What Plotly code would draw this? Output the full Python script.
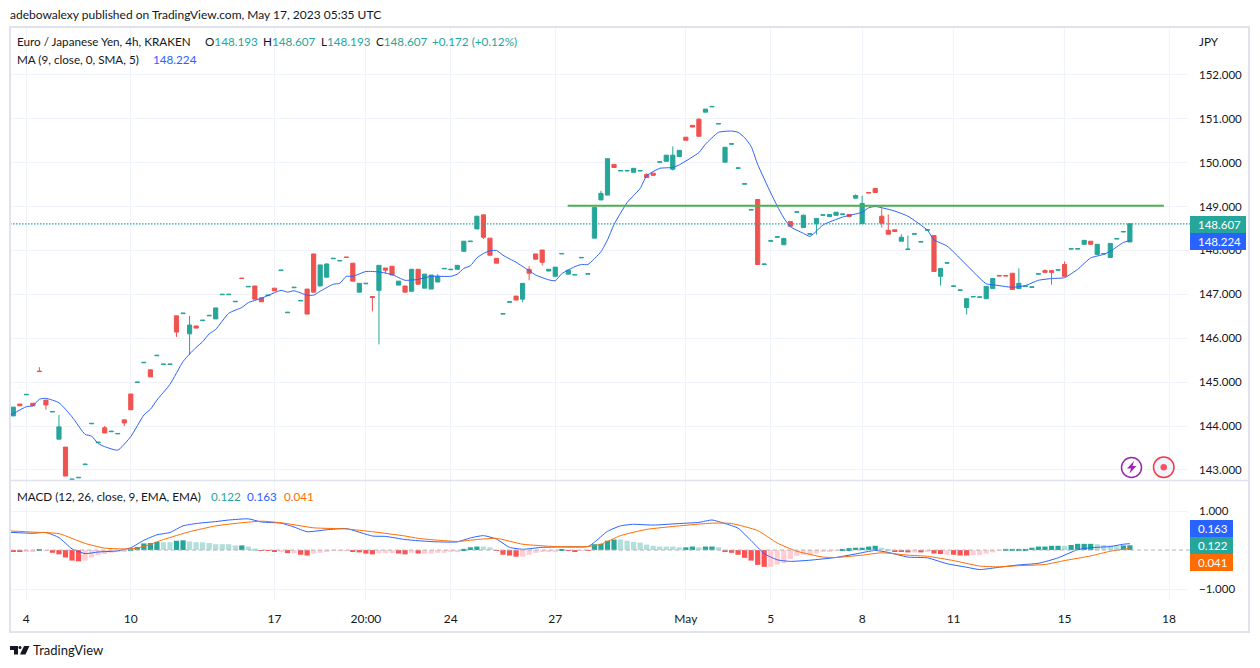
import pandas as pd
import plotly.graph_objects as go

# EUR/JPY 4h candles, one row per bar
opens = [144.23, 144.50, 144.71, 144.52, 145.25, 144.59, 144.32, 143.70, 143.52, 142.78,
         142.82, 143.12, 144.05, 143.62, 143.96, 143.87, 143.82, 144.14, 144.73, 144.99,
         145.44, 145.28, 145.60, 145.40, 145.40, 146.51, 146.56, 146.10, 146.28, 146.40,
         146.51, 146.44, 146.99, 146.99, 146.83, 147.37, 147.17, 147.19, 146.92, 146.97,
         147.14, 147.54, 146.58, 147.15, 146.85, 147.12, 147.92, 147.19, 147.39, 147.81,
         147.76, 147.85, 147.71, 147.05, 147.24, 146.95, 147.09, 147.60, 147.64, 147.21,
         147.19, 147.07, 147.57, 147.14, 147.12, 147.28, 147.58, 147.56, 147.57, 147.98,
         148.20, 148.49, 148.81, 148.28, 147.82, 146.55, 146.82, 146.96, 146.89, 147.57,
         147.92, 148.01, 147.53, 147.41, 147.92, 147.46, 147.44, 147.83, 147.46, 148.28,
         149.15, 149.26, 149.96, 149.81, 149.81, 149.78, 149.81, 149.73, 149.76, 150.01,
         150.03, 149.85, 150.14, 150.58, 150.85, 150.99, 151.15, 151.27, 150.88, 150.01,
         150.42, 149.87, 149.51, 148.92, 149.16, 147.68, 148.21, 148.30, 148.13, 148.66,
         148.87, 148.52, 148.37, 148.61, 148.80, 148.77, 148.80, 148.82, 148.82, 149.19,
         148.61, 149.32, 149.41, 148.78, 148.46, 148.47, 148.21, 148.02, 148.37, 148.19,
         148.46, 148.34, 147.41, 147.71, 147.18, 147.09, 146.70, 146.94, 146.93, 146.90,
         147.13, 147.43, 147.43, 147.48, 147.13, 147.18, 147.16, 147.46, 147.54, 147.54,
         147.55, 147.68, 148.03, 148.03, 148.14, 148.21, 147.91, 147.92, 147.84, 148.26,
         148.42, 148.193]
closes = [144.43, 144.46, 144.72, 144.46, 145.24, 144.48, 144.33, 143.98, 142.86, 142.79,
          142.83, 143.13, 144.06, 143.63, 143.84, 143.88, 143.83, 144.07, 144.37, 145.00,
          145.45, 145.12, 145.61, 145.41, 145.41, 146.14, 146.57, 146.30, 146.23, 146.41,
          146.52, 146.69, 147.00, 147.00, 146.84, 147.36, 147.18, 146.89, 146.83, 146.98,
          147.08, 147.55, 146.59, 147.16, 146.86, 146.55, 147.05, 147.67, 147.69, 147.82,
          147.77, 147.84, 147.30, 147.25, 147.25, 146.93, 147.66, 147.55, 147.44, 147.30,
          147.05, 147.57, 147.23, 147.46, 147.44, 147.41, 147.59, 147.57, 147.66, 148.21,
          148.21, 148.78, 148.30, 147.89, 147.71, 146.56, 146.83, 146.87, 147.25, 147.48,
          147.80, 147.73, 147.57, 147.62, 147.93, 147.55, 147.45, 147.84, 147.47, 148.98,
          149.30, 150.09, 149.89, 149.82, 149.82, 149.87, 149.82, 149.66, 149.71, 150.02,
          150.17, 150.17, 150.28, 150.51, 150.81, 150.60, 151.22, 151.28, 150.89, 150.35,
          150.43, 149.88, 149.52, 148.93, 147.68, 147.69, 148.22, 148.31, 148.27, 148.55,
          148.88, 148.80, 148.38, 148.73, 148.81, 148.82, 148.87, 148.83, 148.77, 149.25,
          149.07, 149.31, 149.32, 148.62, 148.37, 148.43, 148.30, 148.03, 148.38, 148.20,
          148.47, 147.52, 147.59, 147.72, 147.19, 147.10, 146.90, 146.95, 146.94, 147.18,
          147.36, 147.42, 147.42, 147.11, 147.25, 147.19, 147.17, 147.47, 147.50, 147.50,
          147.56, 147.41, 148.04, 148.04, 148.23, 148.14, 148.14, 147.93, 148.16, 148.27,
          148.43, 148.607]

# only the bars that have a visible wick
high_bars = [4, 7, 14, 27, 48, 65, 79, 90, 97, 101, 105, 118, 121, 129, 130, 133, 134, 136, 137, 154, 158, 161]
high_vals = [145.34, 144.25, 144.00, 146.51, 147.71, 147.46, 147.64, 149.36, 149.76, 150.37, 151.01,
             148.29, 148.82, 149.28, 149.25, 148.96, 148.82, 148.37, 148.34, 147.59, 147.57, 147.75]
low_bars = [5, 17, 25, 27, 55, 56, 57, 72, 78, 79, 81, 101, 123, 133, 142, 146, 159]
low_vals = [144.37, 144.00, 146.03, 145.62, 146.61, 145.86, 147.48, 148.26, 146.82, 147.32, 147.66,
            149.82, 148.36, 148.52, 147.20, 146.54, 147.22]

# MA (9, close, 0, SMA, 5)
ma_bars = [-0.5, 2, 3, 4, 5, 7, 9, 11, 12, 13, 14, 16, 18, 20, 21, 22, 24, 26, 27, 28, 29, 30, 31, 33, 35, 36, 38,
           41, 42, 43, 45, 46, 47, 49, 50, 51, 52, 54, 56, 58, 60, 62, 64, 67, 68, 69, 70, 71, 72, 73, 74, 75,
           77, 79, 80, 82, 83, 84, 86, 87, 88, 90, 91, 92, 94, 95, 96, 97, 99, 101, 102, 105, 106, 108, 110,
           111, 112, 113, 114, 116, 117, 118, 119, 121, 122, 123, 124, 127, 130, 131, 132, 134.7, 137, 140, 141,
           143, 149, 150, 153, 155, 157, 159, 161, 163, 165, 167, 168, 170, 171]
ma_vals = [144.24, 144.44, 144.46, 144.61, 144.63, 144.53, 144.21, 143.81, 143.77, 143.60, 143.53, 143.45,
           143.76, 144.25, 144.38, 144.59, 144.95, 145.47, 145.64, 145.79, 145.92, 146.10, 146.20, 146.57,
           146.70, 146.81, 146.91, 147.09, 147.05, 147.08, 146.98, 146.98, 147.07, 147.23, 147.25, 147.41,
           147.41, 147.52, 147.51, 147.45, 147.32, 147.34, 147.41, 147.41, 147.46, 147.59, 147.65, 147.83,
           147.93, 147.99, 148.00, 147.89, 147.73, 147.54, 147.44, 147.33, 147.31, 147.47, 147.63, 147.68,
           147.68, 147.97, 148.24, 148.59, 149.09, 149.25, 149.41, 149.70, 149.87, 149.89, 149.95, 150.23,
           150.42, 150.69, 150.72, 150.69, 150.57, 150.37, 149.96, 149.31, 149.01, 148.74, 148.54, 148.39,
           148.32, 148.44, 148.58, 148.76, 148.87, 148.97, 149.00, 148.91, 148.78, 148.46, 148.24, 148.10,
           147.24, 147.22, 147.16, 147.20, 147.32, 147.36, 147.38, 147.57, 147.83, 147.91, 147.98, 148.18,
           148.224]

# MACD histogram, fading = 1 where the bar is paler
hist_vals = [-.03, -.03, -.03, -.03, .01, -.02, -.07, -.11, -.19, -.27,
             -.29, -.27, -.19, -.13, -.10, -.07, -.05, -.04, .04, .08,
             .17, .18, .21, .20, .20, .24, .25, .22, .20, .20,
             .18, .15, .15, .15, .12, .12, .09, .04, -.01, -.02,
             -.03, -.03, -.08, -.08, -.12, -.14, -.09, -.07, -.03, -.01,
             -.01, -.01, -.03, -.06, -.09, -.11, -.08, -.08, -.08, -.09,
             -.11, -.07, -.09, -.09, -.09, -.07, -.07, -.05, -.03, .03,
             .07, .09, .09, .07, -.01, -.12, -.14, -.17, -.17, -.12,
             -.07, -.05, -.04, -.04, .01, -.02, -.04, -.01, -.02, .15,
             .16, .24, .27, .27, .24, .21, .19, .14, .11, .09,
             .09, .09, .07, .07, .09, .07, .09, .09, .07, -.04,
             -.07, -.12, -.20, -.27, -.38, -.43, -.43, -.37, -.34, -.23,
             -.15, -.12, -.12, -.09, -.05, -.03, -.02, .01, .05, .06,
             .06, .09, .11, .06, .01, -.03, -.05, -.06, -.06, -.06,
             -.03, -.09, -.10, -.12, -.12, -.14, -.14, -.13, -.13, -.09,
             -.06, -.01, .03, .03, .03, .03, .06, .09, .09, .11,
             .11, .11, .13, .16, .16, .16, .15, .13, .12, .10,
             .12, .122]
hist_fading = [0, 0, 1, 1, 0, 1, 0, 0, 0, 0,
               0, 1, 1, 1, 1, 1, 1, 1, 0, 0,
               0, 0, 0, 1, 1, 0, 0, 1, 1, 1,
               1, 1, 1, 1, 1, 0, 1, 1, 0, 0,
               0, 1, 0, 1, 0, 0, 1, 1, 1, 1,
               1, 1, 0, 0, 0, 0, 1, 1, 1, 0,
               0, 1, 0, 1, 1, 1, 1, 1, 1, 0,
               0, 0, 1, 1, 0, 0, 0, 0, 1, 1,
               1, 1, 1, 1, 0, 0, 0, 1, 0, 0,
               0, 0, 0, 1, 1, 1, 1, 1, 1, 1,
               1, 1, 1, 0, 0, 1, 0, 0, 1, 0,
               0, 0, 0, 0, 0, 0, 1, 1, 1, 1,
               1, 1, 1, 1, 1, 1, 1, 0, 0, 0,
               0, 0, 0, 1, 1, 0, 0, 0, 1, 0,
               1, 0, 0, 1, 0, 0, 0, 1, 1, 1,
               1, 1, 0, 0, 0, 0, 0, 0, 0, 0,
               0, 1, 0, 0, 0, 0, 1, 1, 1, 1,
               0, 0]

macd_bars = [-0.5, 3, 5, 7, 9, 11, 13, 16, 18, 20, 22, 24, 26, 28, 31, 33, 36, 38, 41, 43, 45, 48, 51, 55, 57, 60,
             62, 65, 68, 70, 72, 74, 76, 78, 81, 84, 88, 89, 91, 93, 95, 98, 102, 105, 107, 109, 111, 113, 115,
             117, 119, 122, 126, 129, 132, 134, 137, 140, 143, 146, 148, 151, 154, 157, 160, 163, 165, 168, 170, 171]
macd_vals = [.455, .43, .45, .32, .03, -.09, -.05, -.02, .06, .25, .39, .45, .62, .68, .73, .77, .80, .72, .69, .59,
             .47, .52, .55, .36, .35, .27, .24, .21, .21, .31, .37, .28, .07, .02, .07, .08, .09, .20, .48, .62,
             .66, .64, .68, .71, .77, .68, .56, .24, -.09, -.25, -.29, -.26, -.19, -.10, -.01, -.06, -.18, -.20,
             -.35, -.44, -.50, -.44, -.38, -.34, -.20, .01, .06, .09, .15, .163]
signal_bars = [-0.5, 3, 7, 11, 14, 18, 20, 23, 27, 31, 35, 38, 41, 46, 51, 55, 60, 62, 68, 71, 74, 78, 83, 88, 90,
               93, 97, 102, 107, 110, 114, 117, 120, 124, 126, 130, 133, 137, 140, 144, 148, 151, 154, 158, 161,
               165, 168, 171]
signal_vals = [.49, .46, .42, .17, .05, .03, .09, .27, .47, .62, .70, .74, .70, .57, .54, .47, .36, .30, .22, .27,
               .30, .15, .09, .09, .15, .37, .53, .62, .69, .68, .50, .18, -.03, -.18, -.19, -.13, -.07, -.13,
               -.16, -.27, -.41, -.43, -.40, -.37, -.27, -.15, -.03, .041]

# date labels under the chart
date_bars = [2, 18, 40, 54, 67, 83, 103, 116, 130, 144, 161, 177]
date_labels = ['4', '10', '17', '20:00', '24', '27', 'May', '5', '8', '11', '15', '18']
price_ticks = [143, 144, 145, 146, 147, 148, 149, 150, 151, 152]
macd_ticks = [-1, 1]

trend_bars = [84.9, 176.2]
trend_vals = [149.02, 149.02]

UP = '#26a69a'
DOWN = '#ef5350'
GRID = '#f0f3fa'
TEXT = '#131722'
FONT = 'Lato'


def px(x):
    return x / 1260


def py(y):
    return 1 - y / 668


class Plot:
    def __init__(self, data: pd.DataFrame):
        self.data = data

    def shade(self, value, fading):
        if value >= 0:
            return '#b2dfdb' if fading else UP
        return '#ffcdd2' if fading else '#ff5252'

    def add_label(self, fig, x, y, text, size=12, color=TEXT):
        fig.add_annotation(xref='paper', yref='paper', x=px(x), y=py(y), text=text, showarrow=False,
                           xanchor='left', yanchor='middle', font=dict(size=size, color=color, family=FONT))

    def add_box(self, fig, y0, y1, x1, text, color):
        fig.add_shape(xref='paper', yref='paper', type='rect', x0=px(1190), x1=px(x1), y0=py(y0), y1=py(y1),
                      fillcolor=color, line_width=0, layer='above')
        fig.add_annotation(xref='paper', yref='paper', x=px(1196), y=py((y0 + y1) / 2), text=text, showarrow=False,
                           xanchor='left', yanchor='middle', font=dict(size=11.5, color='white', family=FONT))

    def plot_chart(self):
        fig = go.Figure()

        fig.add_trace(go.Candlestick(x=self.data.index,
                                     open=self.data['open'],
                                     high=self.data['high'],
                                     low=self.data['low'],
                                     close=self.data['close'],
                                     increasing=dict(line=dict(color=UP, width=1), fillcolor=UP),
                                     decreasing=dict(line=dict(color=DOWN, width=1), fillcolor=DOWN),
                                     hoverinfo='skip'))

        fig.add_trace(go.Scatter(x=ma_bars, y=ma_vals, mode='lines',
                                 line=dict(color='#2962ff', width=1, shape='spline', smoothing=0.5)))

        fig.add_trace(go.Scatter(x=trend_bars, y=trend_vals, mode='lines',
                                 line=dict(color='#4caf50', width=2)))

        fig.add_trace(go.Bar(x=self.data.index, y=hist_vals, xaxis='x2', yaxis='y2', width=0.8,
                             marker=dict(color=[self.shade(v, f) for v, f in zip(hist_vals, hist_fading)], line_width=0)))

        fig.add_trace(go.Scatter(x=macd_bars, y=macd_vals, xaxis='x2', yaxis='y2', mode='lines',
                                 line=dict(color='#2962ff', width=1, shape='spline', smoothing=0.5)))

        fig.add_trace(go.Scatter(x=signal_bars, y=signal_vals, xaxis='x2', yaxis='y2', mode='lines',
                                 line=dict(color='#ff6d00', width=1, shape='spline', smoothing=0.5)))

        # last price and the zero line of the MACD
        fig.add_shape(type='line', xref='paper', yref='y', x0=px(10), x1=px(1190), y0=148.607, y1=148.607,
                      line=dict(color=UP, width=1.3, dash='1.5px,1.5px'))
        fig.add_shape(type='line', xref='paper', yref='y2', x0=px(10), x1=px(1190), y0=0, y1=0,
                      line=dict(color='#b2b5be', width=1, dash='4px,3px'))

        # frame of the chart and the line between the panes
        fig.add_shape(type='rect', xref='paper', yref='paper', x0=px(10), x1=px(1249), y0=py(27), y1=py(632),
                      line=dict(color='#e0e3eb', width=2))
        fig.add_shape(type='line', xref='paper', yref='paper', x0=px(10), x1=px(1249), y0=py(480.5), y1=py(480.5),
                      line=dict(color='#e0e3eb', width=1.5))

        # the two round buttons
        fig.add_shape(type='circle', xref='paper', yref='paper', x0=px(1121.5), x1=px(1141.5), y0=py(457.5), y1=py(477.5),
                      line=dict(color='#9c27b0', width=1.5), fillcolor='white', layer='above')
        fig.add_shape(type='path', xref='paper', yref='paper', layer='above', line_width=0, fillcolor='#9c27b0',
                      path=f'M {px(1134)} {py(461)} L {px(1127)} {py(468.5)} L {px(1131)} {py(468.5)} L {px(1129.5)} {py(473.5)} '
                           f'L {px(1136.5)} {py(466)} L {px(1132.5)} {py(466)} Z')
        fig.add_shape(type='circle', xref='paper', yref='paper', x0=px(1153.5), x1=px(1174), y0=py(457), y1=py(477.5),
                      line=dict(color='#f23645', width=1.5), fillcolor='#f0f3fa', layer='above')
        fig.add_shape(type='circle', xref='paper', yref='paper', x0=px(1160.5), x1=px(1167), y0=py(464), y1=py(470.5),
                      line_width=0, fillcolor='#f7525f', layer='above')

        # TradingView mark in the footer
        fig.add_shape(type='path', xref='paper', yref='paper', line_width=0, fillcolor=TEXT,
                      path=f'M {px(10)} {py(646)} L {px(18)} {py(646)} L {px(18)} {py(654.5)} L {px(14)} {py(654.5)} '
                           f'L {px(14)} {py(650)} L {px(10)} {py(650)} Z')
        fig.add_shape(type='circle', xref='paper', yref='paper', line_width=0, fillcolor=TEXT,
                      x0=px(18.5), x1=px(21.5), y0=py(646), y1=py(649))
        fig.add_shape(type='path', xref='paper', yref='paper', line_width=0, fillcolor=TEXT,
                      path=f'M {px(24)} {py(646)} L {px(29.5)} {py(646)} L {px(25.5)} {py(654.5)} L {px(20)} {py(654.5)} Z')

        self.add_label(fig, 8, 15, 'adebowalexy published on TradingView.com, May 17, 2023 05:35 UTC')
        self.add_label(fig, 15, 41, 'Euro / Japanese Yen, 4h, KRAKEN', size=11.7)
        self.add_label(fig, 203, 41, f'O<span style="color:{UP}">148.193</span>', size=11.7)
        self.add_label(fig, 261, 41, f'H<span style="color:{UP}">148.607</span>', size=11.7)
        self.add_label(fig, 319, 41, f'L<span style="color:{UP}">148.193</span>', size=11.7)
        self.add_label(fig, 374, 41, f'C<span style="color:{UP}">148.607</span>', size=11.7)
        self.add_label(fig, 430, 41, '+0.172 (+0.12%)', size=11.7, color=UP)
        self.add_label(fig, 15, 59, 'MA (9, close, 0, SMA, 5)', size=11.7)
        self.add_label(fig, 151, 59, '148.224', size=11.7, color='#2962ff')
        self.add_label(fig, 15, 496, 'MACD (12, 26, close, 9, EMA, EMA)', size=11.7)
        self.add_label(fig, 209, 496, '0.122', size=11.7, color=UP)
        self.add_label(fig, 245, 496, '0.163', size=11.7, color='#2962ff')
        self.add_label(fig, 282, 496, '0.041', size=11.7, color='#ff6d00')
        self.add_label(fig, 1197, 41, 'JPY', size=11.7)
        self.add_label(fig, 31, 650, 'TradingView', size=13)

        self.add_box(fig, 216, 233, 1246, '148.607', UP)
        self.add_box(fig, 233, 250, 1246, '148.224', '#2962ff')
        self.add_box(fig, 520, 537, 1233, '0.163', '#2962ff')
        self.add_box(fig, 537, 554, 1233, '0.122', UP)
        self.add_box(fig, 554, 571, 1233, '0.041', '#ff6d00')

        fig.update_layout(
            width=1260,
            height=668,
            margin=dict(l=0, r=0, t=0, b=0),
            showlegend=False,
            boxgap=0.36,
            boxgroupgap=0,
            paper_bgcolor='white',
            plot_bgcolor='white',
            font_family=FONT,
            xaxis=dict(domain=[px(10), px(1188)], range=[-0.5, 179.9], anchor='y', tickvals=date_bars,
                       showticklabels=False, gridcolor=GRID, zeroline=False, rangeslider_visible=False, ticks=''),
            yaxis=dict(domain=[py(480), py(27)], range=[142.77, 153.09], side='right', anchor='x', tickvals=price_ticks,
                       tickformat='.3f', gridcolor=GRID, zeroline=False, ticks='', ticklabelstandoff=10,
                       tickfont=dict(size=11.5, color=TEXT)),
            xaxis2=dict(domain=[px(10), px(1188)], range=[-0.5, 179.9], anchor='y2', tickvals=date_bars,
                        ticktext=date_labels, gridcolor=GRID, zeroline=False, ticks='', ticklabelstandoff=10,
                        tickfont=dict(size=12, color=TEXT)),
            yaxis2=dict(domain=[py(600), py(481)], range=[-1.28, 1.77], side='right', anchor='x2', tickvals=macd_ticks,
                        tickformat='.3f', gridcolor=GRID, zeroline=False, ticks='', ticklabelstandoff=10,
                        tickfont=dict(size=11.5, color=TEXT)),
        )

        fig.write_html('out.html', config={'displayModeBar': False}, post_script="document.body.style.margin='0';")


data = pd.DataFrame({'open': opens, 'close': closes})
data['high'] = data[['open', 'close']].max(axis=1)
data['low'] = data[['open', 'close']].min(axis=1)
data.loc[high_bars, 'high'] = high_vals
data.loc[low_bars, 'low'] = low_vals

Plot(data).plot_chart()
